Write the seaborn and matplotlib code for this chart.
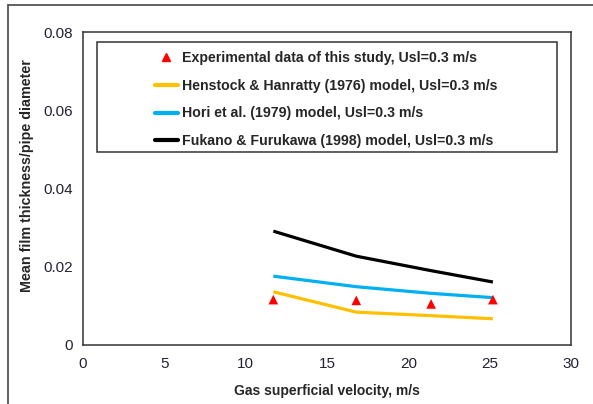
import matplotlib
matplotlib.use("Agg")
import matplotlib.pyplot as plt
import seaborn as sns
import pandas as pd
from matplotlib.lines import Line2D
from matplotlib.patches import Rectangle

# ---- data ----
gas_velocity = [11.7, 16.8, 21.4, 25.2]
experimental = [0.0116, 0.0114, 0.0105, 0.0116]
henstock = [0.0136, 0.0084, 0.0075, 0.0067]
hori = [0.0176, 0.0149, 0.0132, 0.0121]
fukano = [0.0291, 0.0227, 0.0190, 0.0161]

labels = [
    "Experimental data of this study, Usl=0.3 m/s",
    "Henstock & Hanratty (1976) model, Usl=0.3 m/s",
    "Hori et al. (1979) model, Usl=0.3 m/s",
    "Fukano & Furukawa (1998) model, Usl=0.3 m/s",
]
x_ticks = [0, 5, 10, 15, 20, 25, 30]
y_ticks = [0, 0.02, 0.04, 0.06, 0.08]
y_tick_labels = ["0", "0.02", "0.04", "0.06", "0.08"]
x_label = "Gas superficial velocity, m/s"
y_label = "Mean film thickness/pipe diameter"

sns.set_style("white")
plt.rcParams["font.family"] = ["Liberation Sans", "DejaVu Sans"]

fig = plt.figure(figsize=(5.93, 4.04), dpi=100)
ax = fig.add_axes([83 / 593, 59 / 404, 488 / 593, 313 / 404])

models = [(henstock, "#FFC000"), (hori, "#00B0F0"), (fukano, "#000000")]
for vals, col in models:
    df = pd.DataFrame({"x": gas_velocity, "y": vals})
    sns.lineplot(data=df, x="x", y="y", ax=ax, color=col, linewidth=2.3,
                 solid_capstyle="butt", legend=False)

dfe = pd.DataFrame({"x": gas_velocity, "y": experimental})
sns.scatterplot(data=dfe, x="x", y="y", ax=ax, marker="^", s=48, color="#FF0000",
                edgecolor="none", linewidth=0, legend=False, zorder=5)

ax.set_xlim(0, 30)
ax.set_ylim(0, 0.08)
ax.set_xticks(x_ticks)
ax.set_xticklabels([str(v) for v in x_ticks])
ax.set_yticks(y_ticks)
ax.set_yticklabels(y_tick_labels)
ax.tick_params(axis="both", direction="out", length=4, width=1, color="#333333",
               labelsize=11, labelcolor="#222233", pad=3)
ax.tick_params(axis="x", pad=5)
for sp in ax.spines.values():
    sp.set_color("#333333")
    sp.set_linewidth(1.1)
    sp.set_visible(True)

ax.set_xlabel(x_label, fontsize=10, fontweight="bold", labelpad=9)
ax.set_ylabel(y_label, fontsize=10.3, fontweight="bold")
ax.yaxis.set_label_coords(-0.100, 0.54)

# legend frame
ax.add_patch(Rectangle((14 / 488, 193 / 313), 460 / 488, 110 / 313,
                       transform=ax.transAxes, fill=False, edgecolor="#333333",
                       linewidth=1.1, zorder=6))
handles = [
    Line2D([], [], linestyle="none", marker="^", color="#FF0000", markersize=6),
    Line2D([], [], color="#FFC000", linewidth=3),
    Line2D([], [], color="#00B0F0", linewidth=3),
    Line2D([], [], color="#000000", linewidth=3),
]
leg = ax.legend(handles, labels, loc="upper left",
                bbox_to_anchor=(72 / 488, 294 / 313), frameon=False,
                prop={"size": 10.2, "weight": "bold"}, handlelength=1.6,
                handletextpad=0.28, labelspacing=0.97, borderpad=0,
                borderaxespad=0)

# outer frame
fig.add_artist(Line2D([8 / 593, 1.0], [1 - 5 / 404, 1 - 5 / 404],
                      transform=fig.transFigure, color="#555555", linewidth=1.3))
fig.add_artist(Line2D([8 / 593, 8 / 593], [0, 1 - 5 / 404],
                      transform=fig.transFigure, color="#555555", linewidth=1.3))

fig.savefig("out.png", dpi=100)
